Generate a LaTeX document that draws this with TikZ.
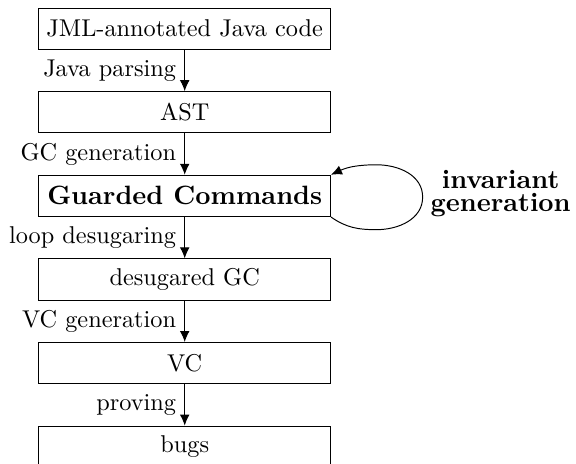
\documentclass[tikz,border=0pt]{standalone}
\usetikzlibrary{positioning,arrows.meta}
\newcommand{\boldbig}{\fontsize{10.9pt}{13pt}\selectfont\bfseries}
\begin{document}
\begin{tikzpicture}[
  stage/.style={draw,minimum width=120pt,minimum height=17pt,inner sep=2pt},
  flow/.style={-{Latex[length=4.5pt,width=4pt]}},
  node distance=17pt
  ]
  \useasboundingbox (0,0) rectangle (237pt,-190.5pt);
  %stages
  \node[stage] (jml) at (76pt,-11.8pt) {JML-annotated Java code};
  \node[stage,below=of jml] (ast) {AST};
  \node[stage,below=of ast,font=\boldbig] (gc) {Guarded Commands};
  \node[stage,below=of gc] (dgc) {desugared GC};
  \node[stage,below=of dgc] (vc) {VC};
  \node[stage,below=of vc] (bugs) {bugs};
  %steps
  \draw[flow] (jml) -- node[left]{Java parsing} (ast);
  \draw[flow] (ast) -- node[left]{GC generation} (gc);
  \draw[flow] (gc) -- node[left]{loop desugaring} (dgc);
  \draw[flow] (dgc) -- node[left]{VC generation} (vc);
  \draw[flow] (vc) -- node[left]{proving} (bugs);
  %loop
  \draw[flow] (gc.south east) to[out=-35,in=180] ++(18.7pt,-5.2pt)
    to[out=0,in=-90] ++(19pt,13.4pt) to[out=90,in=0] ++(-19pt,13.3pt)
    to[out=180,in=25] (gc.north east);
  \node[font=\boldbig,align=center] (inv) at (206pt,-79.7pt) {invariant\\[-3.8pt]generation};
\end{tikzpicture}
\end{document}
